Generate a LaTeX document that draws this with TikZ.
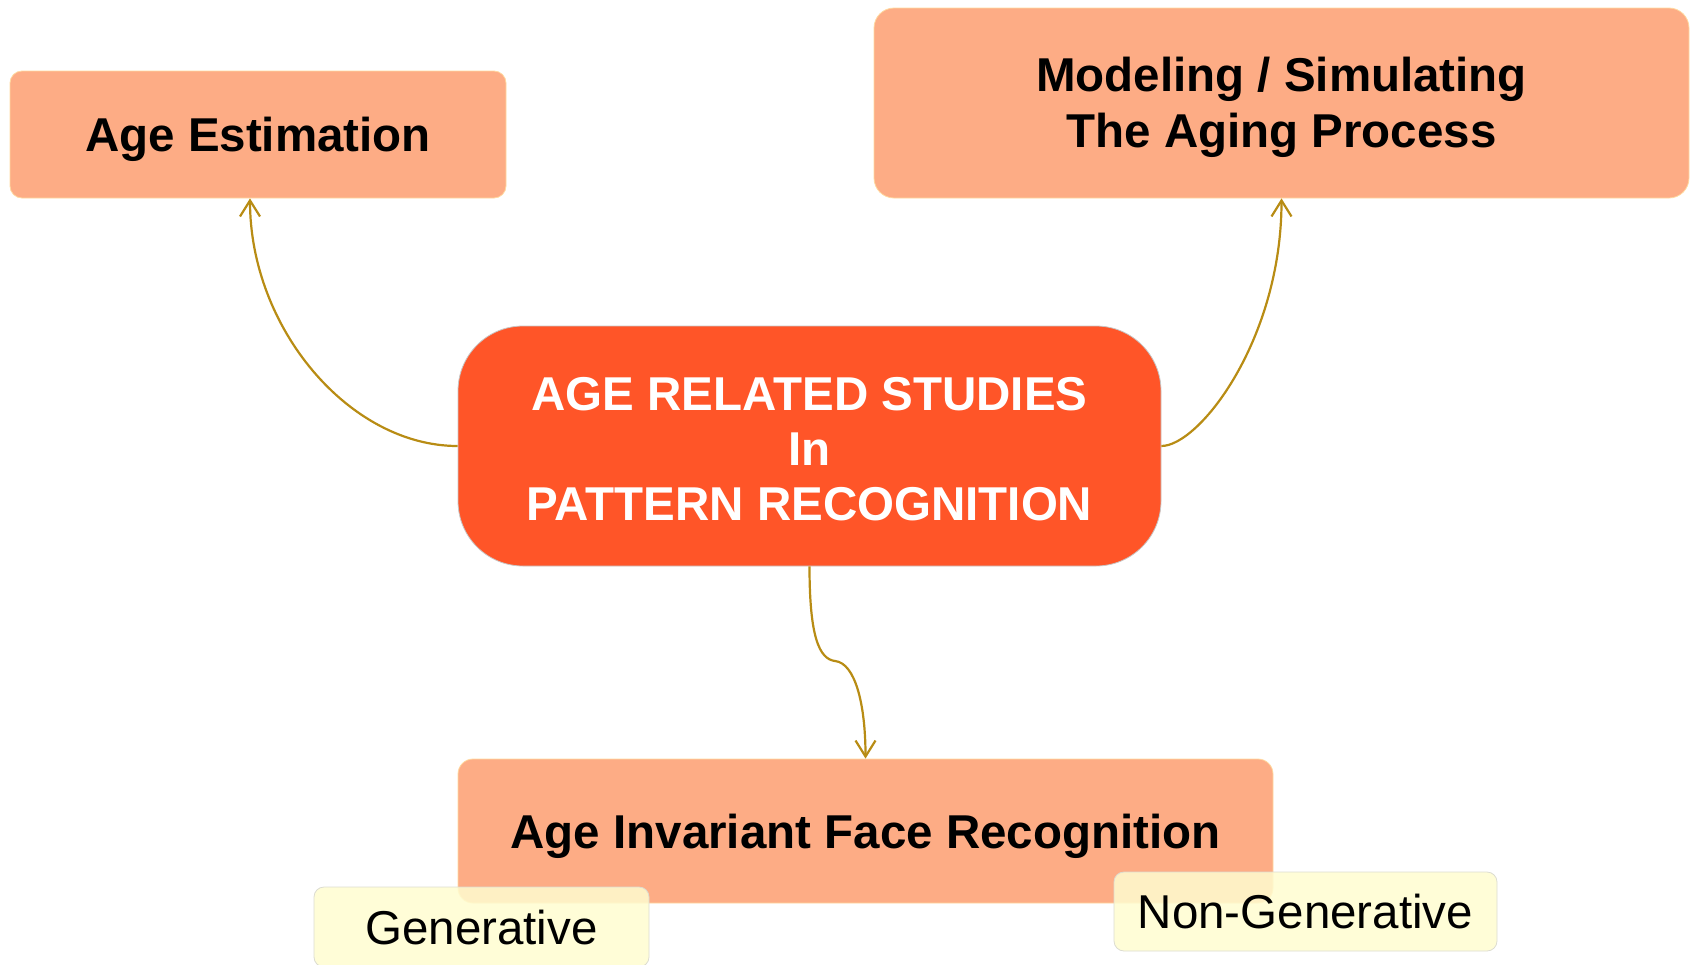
\documentclass[tikz,border=0pt]{standalone}
\usepackage{fontspec}
\setmainfont{Liberation Sans}
\usetikzlibrary{arrows.meta}
\definecolor{peach}{HTML}{FDAC85}
\definecolor{peachedge}{HTML}{FFD9A0}
\definecolor{hot}{HTML}{FF5528}
\definecolor{cream}{HTML}{FFFDD0}
\definecolor{creamedge}{HTML}{DCDCD0}
\definecolor{linkcol}{HTML}{B88C14}
\begin{document}
\begin{tikzpicture}[x=1pt,y=-1pt,
  every node/.style={inner sep=0pt},
  peachbox/.style={fill=peach, draw=peachedge, line width=0.8pt, font=\fontsize{47.5pt}{56pt}\selectfont\bfseries},
  corebox/.style={fill=hot, draw=black!22, line width=0.8pt, text=white, align=center,
    font=\fontsize{47.5pt}{55pt}\selectfont\bfseries, rounded corners=65pt},
  creambox/.style={fill=cream, fill opacity=0.85, text opacity=1, draw=creamedge, line width=0.8pt,
    rounded corners=10pt, font=\fontsize{47.5pt}{56pt}\selectfont},
  oneline/.style={text height=34pt, text depth=0pt},
  link/.style={draw=linkcol, line width=2.2pt, -{Straight Barb[length=16pt,width=20pt]}}
]
\useasboundingbox (0,0) rectangle (1694,964);
\clip (0,0) rectangle (1694,964);

\node[peachbox, oneline, rounded corners=12pt, minimum width=496pt, minimum height=127pt] (ae) at (258,134.5) {Age Estimation};
\node[peachbox, align=center, rounded corners=20pt, minimum width=815pt, minimum height=190pt] (mod) at (1281.5,103) {\rule{0pt}{44pt}Modeling / Simulating\\The Aging Process};
\node[corebox, minimum width=703pt, minimum height=240pt] (core) at (809.5,446) {\rule{0pt}{39pt}AGE RELATED STUDIES\\In\\PATTERN RECOGNITION};
\node[peachbox, oneline, rounded corners=15pt, minimum width=815pt, minimum height=144pt] (aifr) at (865.5,831) {Age Invariant Face Recognition};
\node[creambox, oneline, minimum width=335pt, minimum height=80pt] (gen) at (481.5,927) {Generative};
\node[creambox, oneline, minimum width=383pt, minimum height=79pt] (ngen) at (1305.5,911.5) {Non-Generative};

\coordinate (bend) at (835,661);
\draw[link] (core.west) .. controls +(-108,0) and +(0,130) .. ([xshift=-8pt]ae.south);
\draw[link] (core.east) .. controls +(38,0) and +(0,141) .. (mod.south);
\draw[draw=linkcol, line width=2.2pt] (core.south) .. controls +(0,70) and +(-16,-2) .. (bend);
\draw[link] (bend) .. controls +(20,2) and +(0,-55) .. (aifr.north);
\end{tikzpicture}
\end{document}
